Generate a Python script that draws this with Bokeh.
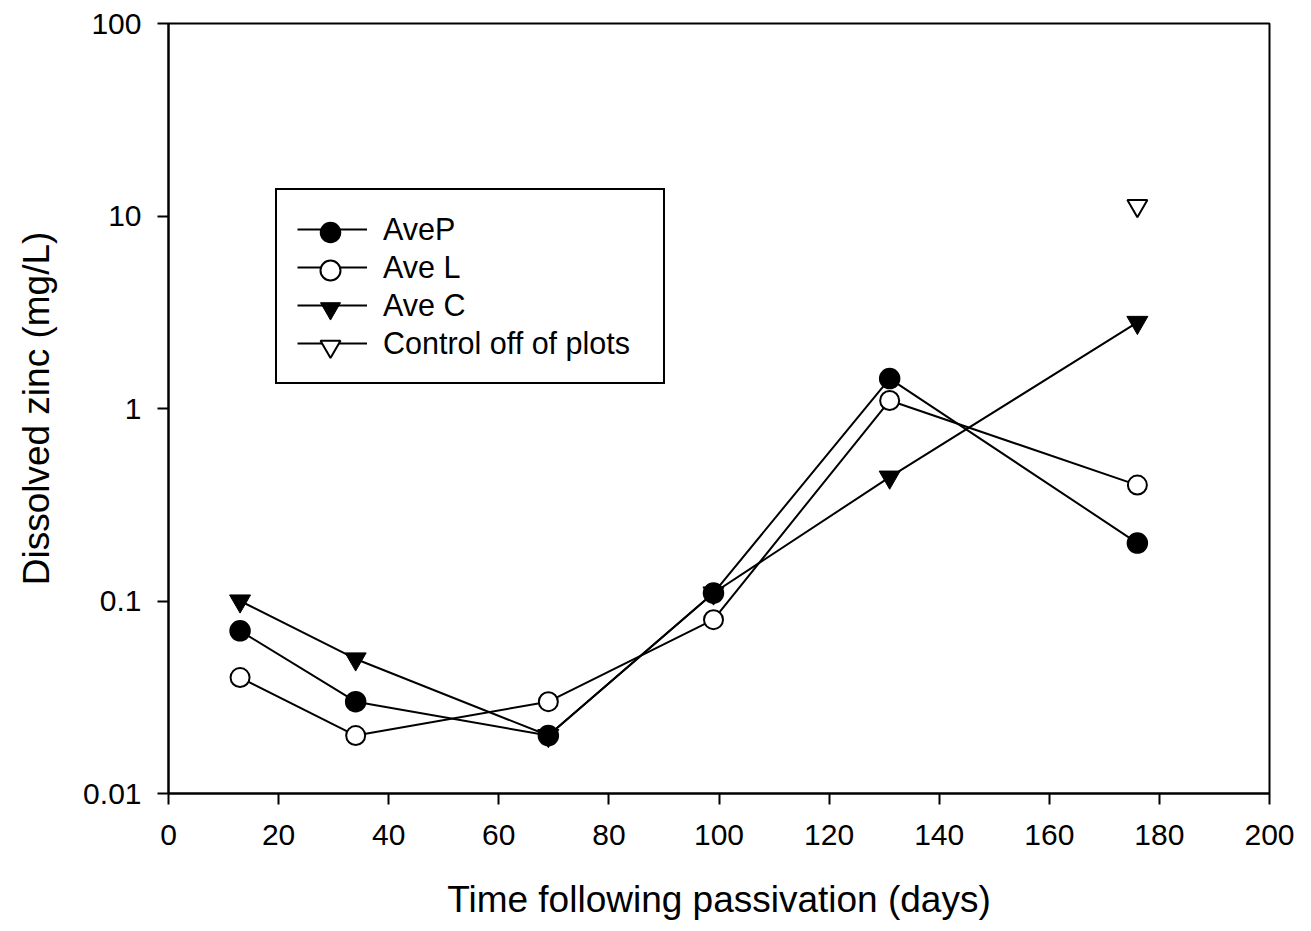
from bokeh.plotting import figure
from bokeh.models import FixedTicker, Legend, LegendItem, Range1d
from bokeh.embed import file_html
from bokeh.resources import INLINE

# ---- data ----
days = [13, 34, 69, 99, 131, 176]
ave_p = [0.07, 0.03, 0.02, 0.11, 1.43, 0.20]
ave_l = [0.04, 0.02, 0.03, 0.08, 1.10, 0.40]
ave_c = [0.10, 0.05, 0.02, 0.11, 0.44, 2.8]
control_days = [176]
control = [11.3]

x_ticks = [0, 20, 40, 60, 80, 100, 120, 140, 160, 180, 200]
y_ticks = [0.01, 0.1, 1, 10, 100]
y_tick_labels = ["0.01", "0.1", "1", "10", "100"]

series_labels = ["AveP", "Ave L", "Ave C", "Control off of plots"]

FONT = "Liberation Sans"

p = figure(width=1303, height=923, y_axis_type="log",
           x_range=Range1d(0, 200), y_range=Range1d(0.01, 100),
           output_backend="svg", toolbar_location=None,
           min_border_left=168, min_border_right=34,
           min_border_top=23, min_border_bottom=130)

p.grid.visible = False
p.outline_line_color = "black"
p.outline_line_width = 2
p.outline_line_alpha = 1
p.background_fill_color = "white"
p.border_fill_color = "white"

p.xaxis.ticker = FixedTicker(ticks=x_ticks)
p.yaxis.ticker = FixedTicker(ticks=y_ticks)
p.yaxis.major_label_overrides = {t: l for t, l in zip(y_ticks, y_tick_labels)}

for ax in (p.xaxis[0], p.yaxis[0]):
    ax.axis_line_width = 2
    ax.axis_line_color = "black"
    ax.major_tick_line_width = 2
    ax.major_tick_line_color = "black"
    ax.major_tick_in = 0
    ax.major_tick_out = 11
    ax.minor_tick_line_color = None
    ax.major_label_text_font = FONT
    ax.major_label_text_font_size = "30px"
    ax.major_label_text_color = "black"
    ax.axis_label_text_font = FONT
    ax.axis_label_text_font_size = "37px"
    ax.axis_label_text_font_style = "normal"
    ax.axis_label_text_color = "black"

p.xaxis.axis_label = "Time following passivation (days)"
p.yaxis.axis_label = "Dissolved zinc (mg/L)"
p.xaxis.major_label_standoff = 20
p.yaxis.major_label_standoff = 16
p.xaxis.axis_label_standoff = 31
p.yaxis.axis_label_standoff = 23

LW = 2
MS = 20

lp = p.line(days, ave_p, line_color="black", line_width=LW)
sp = p.scatter(days, ave_p, marker="circle", size=MS, fill_color="black",
               line_color="black", line_width=1.5)

ll = p.line(days, ave_l, line_color="black", line_width=LW)
sl = p.scatter(days, ave_l, marker="circle", size=MS - 1, fill_color="white",
               line_color="black", line_width=2)

lc = p.line(days, ave_c, line_color="black", line_width=LW)
sc = p.scatter(days, ave_c, marker="inverted_triangle", size=MS + 1,
               fill_color="black", line_color="black", line_width=1)

lk = p.line(control_days, control, line_color="black", line_width=LW)
sk = p.scatter(control_days, control, marker="inverted_triangle", size=MS,
               fill_color="white", line_color="black", line_width=2)

# main legend box: border, connecting lines and labels
legend = Legend(items=[
    LegendItem(label=series_labels[0], renderers=[lp]),
    LegendItem(label=series_labels[1], renderers=[ll]),
    LegendItem(label=series_labels[2], renderers=[lc]),
    LegendItem(label=series_labels[3], renderers=[lk]),
], location=(107, 409))
legend.glyph_width = 70
legend.glyph_height = 38
legend.label_height = 38
legend.spacing = 0
legend.padding = 20
legend.label_standoff = 16
legend.label_width = 260
legend.label_text_font = FONT
legend.label_text_font_size = "30.5px"
legend.label_text_color = "black"
legend.border_line_color = "black"
legend.border_line_alpha = 1
legend.border_line_width = 2
legend.background_fill_color = "white"
legend.background_fill_alpha = 1
legend.margin = 0
p.add_layout(legend, "center")

# full-size legend markers drawn over the legend lines
marker_renderers = [sp, sl, sc, sk]
for i, r in enumerate(marker_renderers):
    ml = Legend(items=[LegendItem(label=" ", renderers=[r])],
                location=(137, 536 - 38 * i))
    ml.glyph_width = 50
    ml.glyph_height = 50
    ml.label_height = 50
    ml.padding = 0
    ml.spacing = 0
    ml.label_standoff = 0
    ml.label_width = 0
    ml.label_text_font_size = "1px"
    ml.border_line_color = None
    ml.background_fill_alpha = 0
    ml.margin = 0
    p.add_layout(ml, "center")

open("out.html", "w").write(file_html(p, INLINE))
